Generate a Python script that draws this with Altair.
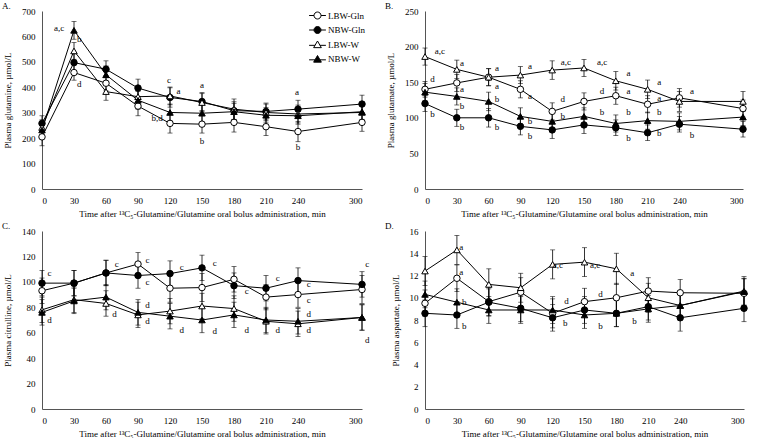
import altair as alt
import pandas as pd

TIMES = [0, 30, 60, 90, 120, 150, 180, 210, 240, 300]
SERIES = ["LBW-Gln", "NBW-Gln", "LBW-W", "NBW-W"]
XTITLE = "Time after \u00b9\u00b3C\u2085-Glutamine/Glutamine oral bolus administration, min"

# ---- Panel A: plasma glutamine ----
A_LBW_GLN = [205, 458, 416, 326, 258, 255, 262, 245, 226, 262]
A_NBW_GLN = [258, 497, 471, 397, 360, 344, 308, 305, 314, 334]
A_LBW_W = [242, 543, 383, 363, 366, 340, 314, 301, 295, 301]
A_NBW_W = [232, 624, 449, 349, 301, 298, 304, 290, 288, 304]
A_ERR_LBW_GLN = [35, 30, 30, 38, 38, 35, 38, 35, 40, 35]
A_ERR_NBW_GLN = [30, 35, 33, 35, 38, 35, 35, 33, 35, 35]
A_ERR_LBW_W = [30, 33, 34, 35, 35, 35, 40, 33, 35, 30]
A_ERR_NBW_W = [30, 35, 35, 35, 33, 35, 33, 30, 33, 30]
A_NOTE_T = [16, 35, 35, 119, 128, 150, 108, 150, 239, 240]
A_NOTE_V = [635, 589, 412, 429, 386, 408, 281, 187, 383, 164]
A_NOTE_TXT = ["a,c", "b", "d", "c", "a", "a", "b,d", "b", "a", "b"]

# ---- Panel B: plasma glutamate ----
B_LBW_GLN = [140, 149, 157, 140, 109, 123, 131, 119, 128, 113]
B_NBW_GLN = [120, 100, 100, 88, 83, 90, 86, 79, 91, 84]
B_LBW_W = [186, 168, 157, 160, 167, 170, 152, 140, 123, 123]
B_NBW_W = [136, 130, 123, 102, 95, 102, 92, 96, 95, 101]
B_ERR_LBW_GLN = [11, 12, 12, 12, 12, 12, 12, 12, 13, 12]
B_ERR_NBW_GLN = [11, 12, 13, 12, 12, 12, 11, 11, 11, 11]
B_ERR_LBW_W = [12, 13, 12, 12, 13, 12, 13, 13, 14, 14]
B_ERR_NBW_W = [12, 12, 13, 12, 12, 12, 12, 12, 12, 12]
B_NOTE_T = [14, 7, 35, 35, 35, 7, 35, 68, 68, 68, 68, 99, 99, 99, 99, 133, 130, 130,
            167, 167, 167, 192, 192, 192, 192, 221, 221, 221, 221, 252, 252]
B_NOTE_V = [194, 154, 177, 141, 116, 106, 87, 170, 145, 127, 87, 173, 130, 95, 74, 179, 127, 103,
            179, 137, 108, 163, 138, 108, 71, 150, 128, 108, 79, 137, 76]
B_NOTE_TXT = ["a,c", "d", "a", "a", "b", "b", "b", "a", "a", "b", "b", "a", "a", "b", "b", "a,c", "d", "b",
              "a,c", "d", "b", "a", "a", "b", "b", "a", "a", "b", "b", "a", "b"]

# ---- Panel C: plasma citrulline ----
C_LBW_GLN = [93, 99, 107, 114, 95, 95.5, 102, 88, 90, 94]
C_NBW_GLN = [99, 99, 107, 105, 106.5, 111, 97, 95, 101, 98]
C_LBW_W = [78, 86, 83, 74, 77, 81, 79, 69, 67, 72]
C_NBW_W = [76, 85, 88, 76, 73, 70, 74, 70, 69, 72]
C_ERR_LBW_GLN = [10, 10, 10, 9, 11, 11, 10, 10, 10, 11]
C_ERR_NBW_GLN = [10, 10, 10, 10, 10, 10, 10, 10, 10, 10]
C_ERR_LBW_W = [10, 10, 10, 10, 10, 10, 10, 10, 10, 10]
C_ERR_NBW_W = [10, 10, 10, 10, 10, 10, 10, 10, 10, 10]
C_NOTE_T = [7, 7, 70, 68, 99, 99, 99, 99, 131, 131, 162, 162, 192, 192, 221, 221, 250, 250, 250, 250, 305, 305]
C_NOTE_V = [107, 70, 114, 75, 117, 82, 100, 69, 112, 62, 115, 61, 93, 62, 103, 62, 98, 86, 75, 62, 114, 54]
C_NOTE_TXT = ["c", "d", "c", "d", "c", "d", "c", "d", "c", "d", "c", "d", "c", "d", "c", "d",
              "c", "c", "d", "d", "c", "d"]

# ---- Panel D: plasma aspartate ----
D_LBW_GLN = [9.5, 11.75, 9.65, 10.5, 8.6, 9.65, 10.0, 10.6, 10.45, 10.4]
D_NBW_GLN = [8.6, 8.45, 9.6, 9.05, 8.2, 8.9, 8.6, 9.2, 8.2, 9.05]
D_LBW_W = [12.4, 14.3, 11.2, 10.9, 13.0, 13.2, 12.6, 10.0, 9.3, 10.6]
D_NBW_W = [10.3, 9.6, 8.9, 8.9, 8.9, 8.45, 8.6, 9.0, 9.3, 10.55]
D_ERR_LBW_GLN = [1.2, 1.2, 1.3, 1.3, 1.3, 1.2, 1.3, 1.2, 1.2, 1.3]
D_ERR_NBW_GLN = [1.2, 1.2, 1.2, 1.2, 1.2, 1.2, 1.2, 1.2, 1.2, 1.2]
D_ERR_LBW_W = [1.3, 1.3, 1.4, 1.3, 1.3, 1.3, 1.4, 1.3, 1.3, 1.3]
D_ERR_NBW_W = [1.2, 1.2, 1.2, 1.2, 1.2, 1.2, 1.2, 1.2, 1.2, 1.2]
D_NOTE_T = [34, 34, 37, 37, 125, 133, 132, 160, 165, 165, 195, 197]
D_NOTE_V = [14.6, 12.3, 9.6, 7.5, 12.9, 9.7, 7.7, 12.9, 10.3, 7.5, 12.2, 7.9]
D_NOTE_TXT = ["a", "a", "b", "b", "a,c", "d", "b", "a,c", "d", "b", "a", "b"]

FONT = "Liberation Serif"
FS = 9
MARKERS = {
    "LBW-Gln": ("circle", "white"),
    "NBW-Gln": ("circle", "black"),
    "LBW-W": ("triangle-up", "white"),
    "NBW-W": ("triangle-up", "black"),
}
LEGEND_PATHS = [
    "M-1.2,0H-0.5M0.5,0H1.2M-0.5,0A0.5,0.5,0,1,0,0.5,0A0.5,0.5,0,1,0,-0.5,0Z",
    "M-1.2,0H-0.5M0.5,0H1.2M-0.5,0A0.5,0.5,0,1,0,0.5,0A0.5,0.5,0,1,0,-0.5,0Z",
    "M-1.2,0.12H-0.34M0.34,0.12H1.2M-0.55,0.45L0,-0.5L0.55,0.45Z",
    "M-1.2,0.12H-0.34M0.34,0.12H1.2M-0.55,0.45L0,-0.5L0.55,0.45Z",
]


def build_df(vals, errs):
    rows = []
    for s, v_list, e_list in zip(SERIES, vals, errs):
        for t, v, e in zip(TIMES, v_list, e_list):
            rows.append({"series": s, "t": t, "v": v, "lo": v - e, "hi": v + e})
    return pd.DataFrame(rows)


def panel(vals, errs, nt, nv, ntxt, ymax, ystep, ytitle, letter, width, height, legend=False):
    df = build_df(vals, errs)
    xscale = alt.Scale(domain=[0, 300], nice=False, zero=False, padding=0)
    yscale = alt.Scale(domain=[0, ymax], nice=False, padding=0)
    yvals = [i * ystep for i in range(int(round(ymax / ystep)) + 1)]
    xaxis = alt.Axis(values=TIMES, title=XTITLE)
    yaxis = alt.Axis(values=yvals, title=ytitle)
    X = alt.X("t:Q", scale=xscale, axis=xaxis)
    base = alt.Chart(df)

    rules = base.mark_rule(color="black", strokeWidth=0.8).encode(
        x=X, y=alt.Y("lo:Q", scale=yscale, axis=yaxis), y2="hi:Q")
    cap_lo = base.mark_tick(orient="horizontal", size=5, thickness=0.8, color="black").encode(
        x=X, y=alt.Y("lo:Q", scale=yscale, axis=yaxis))
    cap_hi = base.mark_tick(orient="horizontal", size=5, thickness=0.8, color="black").encode(
        x=X, y=alt.Y("hi:Q", scale=yscale, axis=yaxis))
    lines = base.mark_line(color="black", strokeWidth=1).encode(
        x=X, y=alt.Y("v:Q", scale=yscale, axis=yaxis), detail="series:N")
    layers = [rules, cap_lo, cap_hi, lines]
    for s in SERIES:
        shp, fc = MARKERS[s]
        layers.append(
            base.transform_filter(alt.datum.series == s)
            .mark_point(shape=shp, filled=True, fill=fc, stroke="black", strokeWidth=1,
                        size=42, opacity=1)
            .encode(x=X, y=alt.Y("v:Q", scale=yscale, axis=yaxis))
        )
    notes = pd.DataFrame({"t": nt, "v": nv, "txt": ntxt})
    layers.append(
        alt.Chart(notes).mark_text(font=FONT, fontSize=FS, align="center", baseline="middle")
        .encode(x=X, y=alt.Y("v:Q", scale=yscale, axis=yaxis), text="txt:N",
                color=alt.value("black"))
    )
    lab = pd.DataFrame({"lab": [letter]})
    layers.append(
        alt.Chart(lab).mark_text(font=FONT, fontSize=FS, align="left", baseline="middle")
        .encode(x=alt.value(-40), y=alt.value(-5), text="lab:N", color=alt.value("black"))
    )
    if legend:
        leg = alt.Legend(title=None, orient="none", legendX=268, legendY=-3,
                         symbolSize=196, symbolStrokeColor="black", symbolStrokeWidth=1,
                         symbolOpacity=1,
                         labelFont=FONT, labelFontSize=FS, labelColor="black",
                         labelOffset=3, rowPadding=1.5)
        layers.append(
            base.mark_point(opacity=0, filled=True, strokeWidth=1, size=42)
            .encode(
                x=X, y=alt.Y("v:Q", scale=yscale, axis=yaxis),
                shape=alt.Shape("series:N", scale=alt.Scale(domain=SERIES, range=LEGEND_PATHS), legend=leg),
                fill=alt.Fill("series:N", scale=alt.Scale(domain=SERIES, range=["white", "black", "white", "black"]), legend=leg),
                stroke=alt.Stroke("series:N", scale=alt.Scale(domain=SERIES, range=["black", "black", "black", "black"]), legend=leg),
            )
        )
    return alt.layer(*layers).properties(width=width, height=height)


H = 178
pA = panel([A_LBW_GLN, A_NBW_GLN, A_LBW_W, A_NBW_W],
           [A_ERR_LBW_GLN, A_ERR_NBW_GLN, A_ERR_LBW_W, A_ERR_NBW_W],
           A_NOTE_T, A_NOTE_V, A_NOTE_TXT, 700, 100, "Plasma glutamine, \u00b5mol/L", "A.", 320, H, legend=True)
pB = panel([B_LBW_GLN, B_NBW_GLN, B_LBW_W, B_NBW_W],
           [B_ERR_LBW_GLN, B_ERR_NBW_GLN, B_ERR_LBW_W, B_ERR_NBW_W],
           B_NOTE_T, B_NOTE_V, B_NOTE_TXT, 250, 50, "Plasma glutamate, \u00b5mol/L", "B.", 318, H)
pC = panel([C_LBW_GLN, C_NBW_GLN, C_LBW_W, C_NBW_W],
           [C_ERR_LBW_GLN, C_ERR_NBW_GLN, C_ERR_LBW_W, C_ERR_NBW_W],
           C_NOTE_T, C_NOTE_V, C_NOTE_TXT, 140, 20, "Plasma citrulline, \u00b5mol/L", "C.", 320, H)
pD = panel([D_LBW_GLN, D_NBW_GLN, D_LBW_W, D_NBW_W],
           [D_ERR_LBW_GLN, D_ERR_NBW_GLN, D_ERR_LBW_W, D_ERR_NBW_W],
           D_NOTE_T, D_NOTE_V, D_NOTE_TXT, 16, 2, "Plasma aspartate, \u00b5mol/L", "D.", 319, H)

top = alt.hconcat(pA, pB, spacing=17)
bottom = alt.hconcat(pC, pD, spacing=15)
chart = (
    alt.vconcat(top, bottom, spacing=4)
    .properties(padding={"left": 2, "top": 2, "right": 0, "bottom": 0}, background="white")
    .configure_view(stroke=None)
    .configure_axis(
        domainColor="#555555", domainWidth=1, ticks=False, tickSize=0, grid=False,
        labelFont=FONT, labelFontSize=FS, labelColor="black", labelPadding=7,
        titleFont=FONT, titleFontSize=FS, titleFontWeight="normal", titleColor="black",
    )
    .configure_axisX(titlePadding=4)
    .configure_axisY(titlePadding=9)
)

chart.save("out.html", embed_options={"renderer": "svg", "actions": False})
